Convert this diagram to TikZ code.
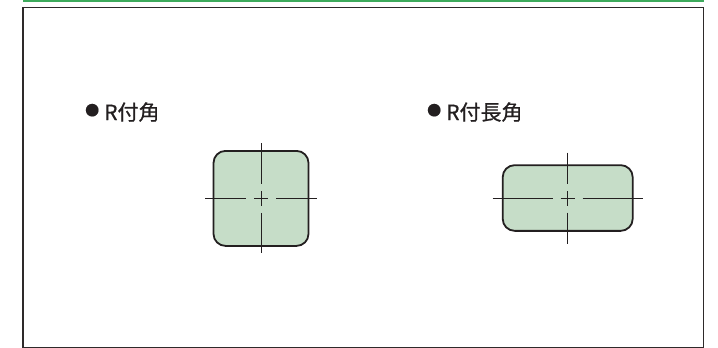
\documentclass[tikz,border=0pt]{standalone}
\usepackage{fontspec}
\newfontfamily\jpfont[FakeBold=0.7]{Noto Sans CJK JP}
\definecolor{topgreen}{HTML}{3DAA5C}
\definecolor{framec}{HTML}{2E2A2A}
\definecolor{boxfill}{HTML}{C6DDC8}
\definecolor{linec}{HTML}{231F20}
\tikzset{
  cline/.style={draw=linec,line width=1pt},
  rbox/.style={draw=linec,fill=boxfill,line width=1.8pt,rounded corners=12pt,inner sep=0pt,rectangle},
  lbl/.style={font=\jpfont\fontsize{21}{21}\selectfont,text=linec,inner sep=0pt,anchor=base west},
  pics/centermark/.style n args={2}{code={
    \draw[cline] (-#1,0) -- (-15,0) (-7,0) -- (7,0) (15,0) -- (#1,0);
    \draw[cline] (0,-#2) -- (0,-14.5) (0,-7) -- (0,7.5) (0,14.5) -- (0,#2);
  }}
}
\newcommand\mybullet{\raisebox{4.5pt}{\fontsize{14}{14}\selectfont ●}\hspace{5pt}}
\begin{document}
\begin{tikzpicture}[x=1pt,y=-1pt]
\useasboundingbox (0,0) rectangle (718,348);
\draw[topgreen,line width=1.6pt] (23,0.8) -- (704,0.8);
\draw[framec,line width=1.4pt] (23,347.3) -- (23,7.7) -- (703.5,7.7) -- (703.5,347.3) -- cycle;
\node[rbox,minimum width=95pt,minimum height=95pt] (sq) at (261,198.4) {};
\pic at (sq.center) {centermark={56}{55}};
\node[rbox,minimum width=130pt,minimum height=65.7pt] (rc) at (567.7,198) {};
\pic at (rc.center) {centermark={75}{45.5}};
\node[lbl] (l1) at (85,120) {\mybullet R付角};
\node[lbl] (l2) at (427,120) {\mybullet R付長角};
\end{tikzpicture}
\end{document}
